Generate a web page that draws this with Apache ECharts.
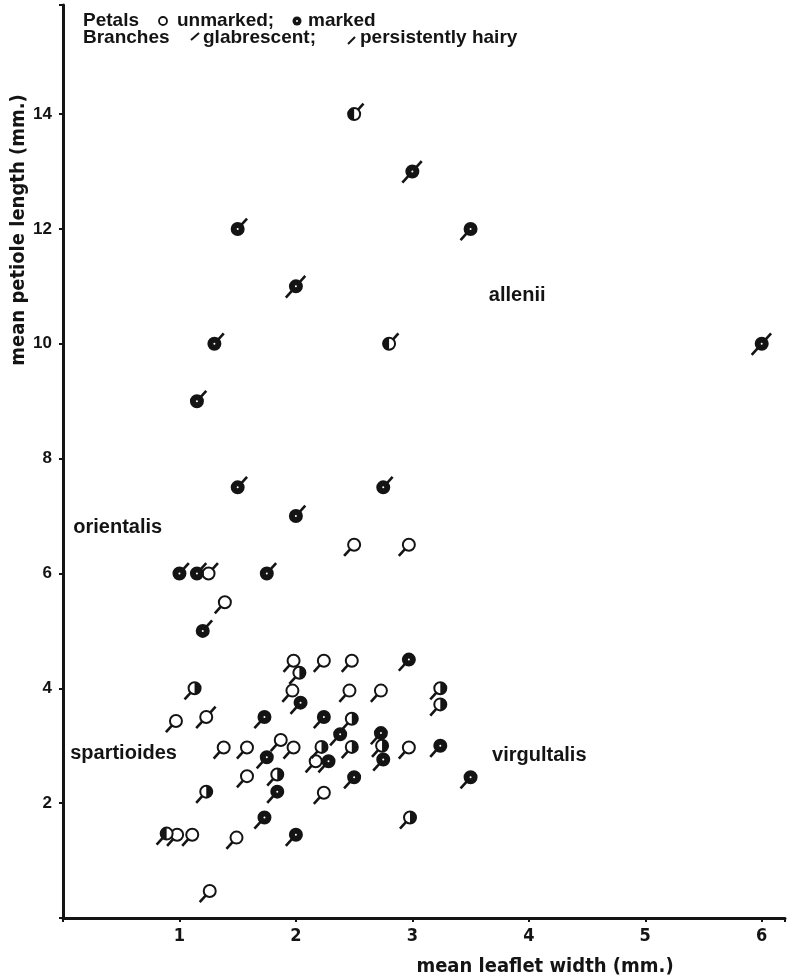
<!DOCTYPE html>
<html><head><meta charset="utf-8">
<script src="https://cdn.jsdelivr.net/npm/echarts@6/dist/echarts.min.js"></script>
<style>html,body{margin:0;padding:0;background:#fff}#c{width:788px;height:979px}</style>
</head><body><div id="c"></div><script>
// ---- data (x = mean leaflet width mm, y = mean petiole length mm) ----
// petals: marked (filled), half-marked, unmarked (open)
// branches: glabrescent (tail up-right), persistently hairy (tail down-left), both
const markedGlabrescent = [[1.5,12],[1.3,10],[1.15,9],[1.5,7.5],[2.75,7.5],[2.0,7.0],[1.0,6.0],[1.15,6.0],[1.75,6.0],[1.2,5.0]];
const halfGlabrescent = [[2.5,14],[2.8,10]];
const unmarkedGlabrescent = [[1.25,6.0]];
const markedBoth = [[3.0,13],[2.0,11],[6.0,10]];
const unmarkedBoth = [[1.23,3.5]];
const markedHairy = [[3.5,12],[2.04,3.75],[1.73,3.5],[2.24,3.5],[2.38,3.2],[2.73,3.22],[1.75,2.8],[2.28,2.73],[2.75,2.76],[3.24,3.0],[1.84,2.2],[2.5,2.45],[3.5,2.45],[2.97,4.5],[1.73,1.75],[2.0,1.45]];
const halfHairyRight = [[2.03,4.27],[1.13,4.0],[3.24,4.0],[3.24,3.72],[2.48,3.47],[2.22,2.98],[2.48,2.98],[2.74,3.0],[1.84,2.5],[1.23,2.2],[2.98,1.75]];
const halfHairyLeft = [[0.89,1.47]];
const unmarkedHairy = [[2.5,6.5],[2.97,6.5],[1.39,5.5],[1.98,4.48],[2.24,4.48],[2.48,4.48],[1.97,3.96],[2.46,3.96],[2.73,3.96],[0.97,3.43],[1.38,2.97],[1.58,2.97],[1.87,3.1],[1.98,2.97],[2.17,2.73],[2.97,2.97],[1.58,2.47],[2.24,2.18],[0.98,1.45],[1.11,1.45],[1.49,1.4],[1.26,0.47]];

const xTickLabels = ['1','2','3','4','5','6'];
const yTickLabels = ['2','4','6','8','10','12','14'];

const speciesNames = ['allenii','orientalis','spartioides','virgultalis'];
const speciesPos = [[3.9,10.84],[0.47,6.8],[0.52,2.86],[4.09,2.83]];

const xName = 'mean leaflet width (mm.)';
const yName = 'mean petiole length (mm.)';

// ---- rendering ----
const INK = '#141414';
function glyph(fill, branch) {
  return function (params, api) {
    const p = api.coord([api.value(0), api.value(1)]);
    const cx = p[0], cy = p[1], r = 6;
    const ca = Math.cos(48 * Math.PI / 180), sa = Math.sin(48 * Math.PI / 180);
    const L = 14;
    const ls = { stroke: INK, lineWidth: 2.6 };
    const ch = [];
    if (branch === 'g' || branch === 'b')
      ch.push({ type: 'line', shape: { x1: cx, y1: cy, x2: cx + L * ca, y2: cy - L * sa }, style: ls });
    if (branch === 'h' || branch === 'b')
      ch.push({ type: 'line', shape: { x1: cx, y1: cy, x2: cx - (L + 1) * ca, y2: cy + (L + 1) * sa }, style: ls });
    ch.push({ type: 'circle', shape: { cx: cx, cy: cy, r: r }, style: { fill: fill === 'f' ? INK : '#fff', stroke: INK, lineWidth: 2 } });
    if (fill === 'r' || fill === 'l') {
      ch.push({ type: 'sector', shape: { cx: cx, cy: cy, r0: 0, r: r,
        startAngle: fill === 'r' ? -Math.PI / 2 : Math.PI / 2,
        endAngle: fill === 'r' ? Math.PI / 2 : Math.PI * 1.5, clockwise: true }, style: { fill: INK } });
    }
    if (fill === 'f') ch.push({ type: 'circle', shape: { cx: cx, cy: cy, r: 1 }, style: { fill: '#fff' } });
    return { type: 'group', children: ch };
  };
}
function mk(name, data, fill, branch) {
  return { type: 'custom', name: name, data: data, renderItem: glyph(fill, branch), silent: true, animation: false, z: 3 };
}

const LABEL_FONT = '"Liberation Sans", Arial, sans-serif';
const NARROW = '"Liberation Sans Narrow", "DejaVu Sans Condensed", "Liberation Sans", sans-serif';

const chart = echarts.init(document.getElementById('c'), null, { renderer: 'canvas' });
chart.setOption({
  animation: false,
  backgroundColor: '#fff',
  grid: { left: 63, right: 0, top: 5, bottom: 61, containLabel: false },
  xAxis: {
    type: 'value', min: 0, max: 6.2, interval: 1,
    axisLine: { show: true, onZero: false, lineStyle: { color: INK, width: 3 } },
    axisTick: { show: true, length: 4, lineStyle: { color: INK, width: 2 } },
    splitLine: { show: false },
    axisLabel: {
      margin: 9, color: INK, fontSize: 18, fontWeight: 'bold', fontFamily: NARROW,
      formatter: function (v) { const s = String(v); return xTickLabels.indexOf(s) >= 0 ? s : ''; }
    }
  },
  yAxis: {
    type: 'value', min: 0, max: 15.9, interval: 2,
    axisLine: { show: true, onZero: false, lineStyle: { color: INK, width: 3 } },
    axisTick: { show: true, length: 4, lineStyle: { color: INK, width: 2 } },
    splitLine: { show: false },
    axisLabel: {
      margin: 11, color: INK, fontSize: 17, fontWeight: 'bold', fontFamily: LABEL_FONT,
      formatter: function (v) { const s = String(v); return yTickLabels.indexOf(s) >= 0 ? s : ''; }
    }
  },
  series: [
    mk('unmarked hairy', unmarkedHairy, 'o', 'h'),
    mk('half hairy R', halfHairyRight, 'r', 'h'),
    mk('half hairy L', halfHairyLeft, 'l', 'h'),
    mk('marked hairy', markedHairy, 'f', 'h'),
    mk('unmarked both', unmarkedBoth, 'o', 'b'),
    mk('marked both', markedBoth, 'f', 'b'),
    mk('unmarked glabrescent', unmarkedGlabrescent, 'o', 'g'),
    mk('half glabrescent', halfGlabrescent, 'l', 'g'),
    mk('marked glabrescent', markedGlabrescent, 'f', 'g'),
    {
      type: 'scatter', name: 'species', symbolSize: 1, silent: true, z: 2,
      itemStyle: { opacity: 0 },
      data: speciesNames.map(function (n, i) { return { name: n, value: speciesPos[i] }; }),
      label: { show: true, position: 'inside', formatter: '{b}', color: INK, opacity: 1,
        textBorderWidth: 0, textShadowBlur: 0,
        fontSize: 20, fontWeight: 'bold', fontFamily: LABEL_FONT }
    }
  ],
  graphic: [
    // legend row 1
    { type: 'text', left: 83, top: 11, style: { text: 'Petals', font: 'bold 19px ' + LABEL_FONT, fill: INK } },
    { type: 'circle', shape: { cx: 163, cy: 21, r: 4 }, style: { fill: '#fff', stroke: INK, lineWidth: 1.8 } },
    { type: 'text', left: 177, top: 11, style: { text: 'unmarked;', font: 'bold 19px ' + LABEL_FONT, fill: INK } },
    { type: 'circle', shape: { cx: 297, cy: 21, r: 4.5 }, style: { fill: INK } },
    { type: 'circle', shape: { cx: 297, cy: 21, r: 1 }, style: { fill: '#fff' } },
    { type: 'text', left: 308, top: 11, style: { text: 'marked', font: 'bold 19px ' + LABEL_FONT, fill: INK } },
    // legend row 2
    { type: 'text', left: 83, top: 28, style: { text: 'Branches', font: 'bold 19px ' + LABEL_FONT, fill: INK } },
    { type: 'line', shape: { x1: 191, y1: 40, x2: 199, y2: 33 }, style: { stroke: INK, lineWidth: 2 } },
    { type: 'text', left: 203, top: 28, style: { text: 'glabrescent;', font: 'bold 19px ' + LABEL_FONT, fill: INK } },
    { type: 'line', shape: { x1: 348, y1: 44, x2: 355, y2: 37 }, style: { stroke: INK, lineWidth: 2 } },
    { type: 'text', left: 360, top: 28, style: { text: 'persistently hairy', font: 'bold 19px ' + LABEL_FONT, fill: INK } },
    // axis names
    { type: 'text', x: 545, y: 967, style: { text: xName, font: 'bold 20px ' + NARROW, fill: INK, align: 'center', verticalAlign: 'middle' } },
    { type: 'text', x: 19, y: 230, rotation: Math.PI / 2, style: { text: yName, font: 'bold 20px ' + NARROW, fill: INK, align: 'center', verticalAlign: 'middle' } }
  ]
});
</script></body></html>
